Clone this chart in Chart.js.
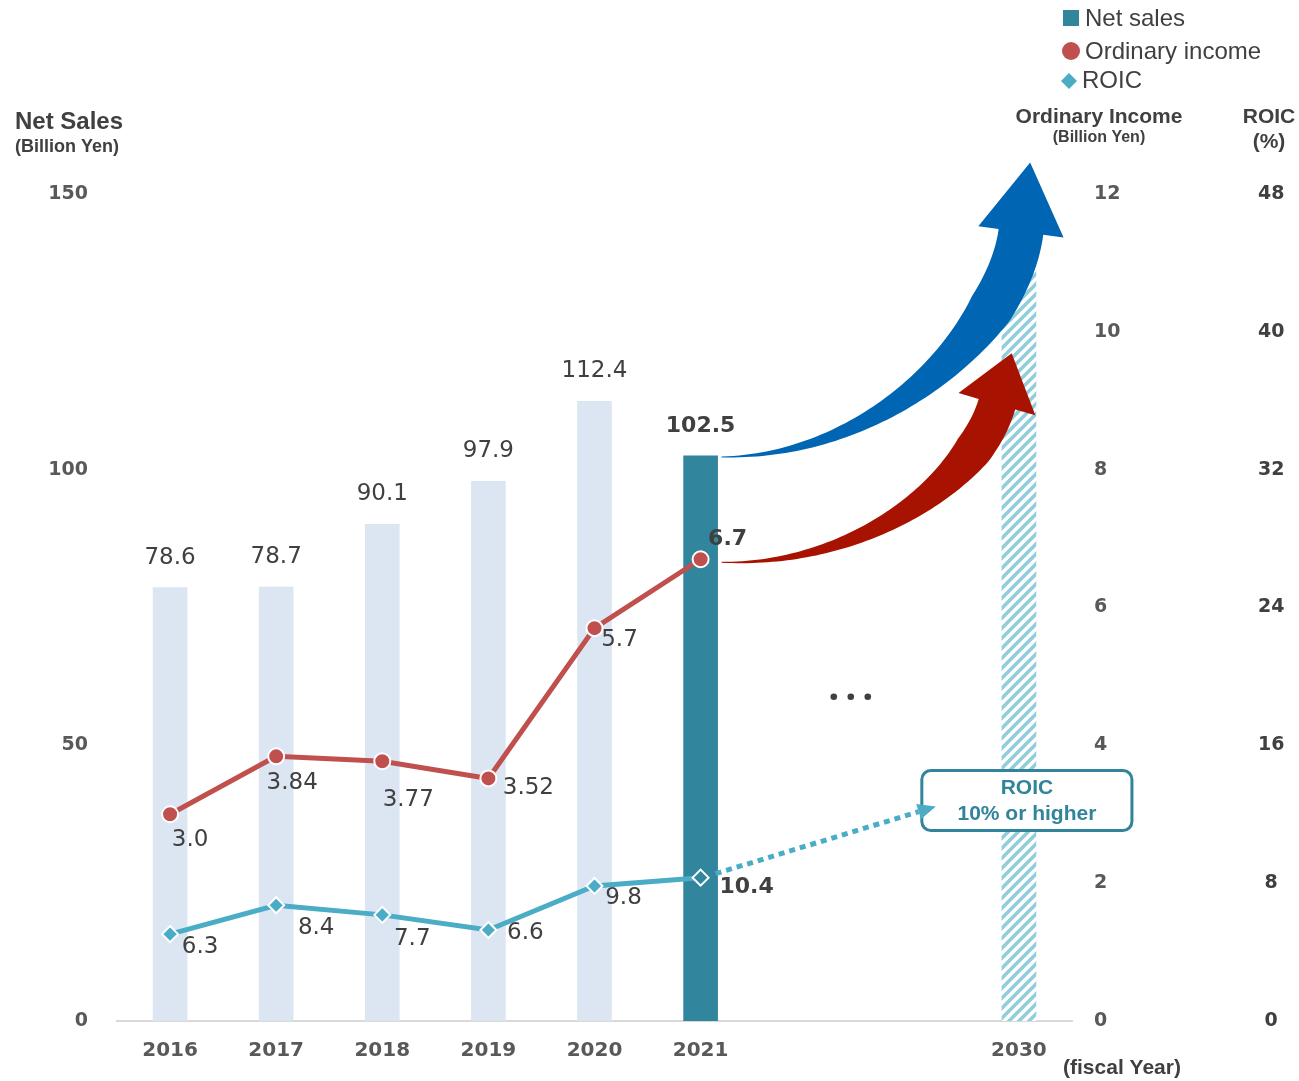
<!DOCTYPE html>
<html><head><meta charset="utf-8">
<script src="https://cdn.jsdelivr.net/npm/chart.js@4"></script>
<style>html,body{margin:0;padding:0;background:#fff;overflow:hidden}canvas{display:block}</style>
</head><body><canvas id="c" width="1299" height="1081" style="width:1299px;height:1081px"></canvas>
<script>
// ---------- data ----------
const years = ['2016','2017','2018','2019','2020','2021','','','2030'];
const netSales = [78.6, 78.7, 90.1, 97.9, 112.4, 102.5, null, null, 137];
const netSalesLabels = ['78.6','78.7','90.1','97.9','112.4','102.5','','',''];
const ordinaryIncome = [3.0, 3.84, 3.77, 3.52, 5.7, 6.7, null, null, null];
const ordinaryIncomeLabels = ['3.0','3.84','3.77','3.52','5.7','6.7','','',''];
const roic = [6.3, 8.4, 7.7, 6.6, 9.8, 10.4, null, null, null];
const roicLabels = ['6.3','8.4','7.7','6.6','9.8','10.4','','',''];
const salesTicks = [0, 50, 100, 150];
const incomeTicks = [0, 2, 4, 6, 8, 10, 12];
const roicTicks = [0, 8, 16, 24, 32, 40, 48];
const roicTargetText = ['ROIC', '10% or higher'];
const seriesNames = ['Net sales', 'Ordinary income', 'ROIC'];

// ---------- styles ----------
const DV = '"DejaVu Sans", Verdana, sans-serif';
const AR = '"Liberation Sans", Arial, sans-serif';
const C_BAR = '#dce6f2', C_BAR21 = '#31859c', C_OI = '#c0504d', C_ROIC = '#4bacc6';
const C_TEXT = '#404040', C_TICK = '#595959';
const incomeLabelOffsets = [[20,26],[16,27],[26,39],[40,10],[25,12],[27,-20]];
const roicLabelOffsets = [[30,13],[40,23],[30,24],[37,3],[29,12],[46,10]];

function makeHatch(){
  const s = 10, c = document.createElement('canvas'); c.width = s; c.height = s;
  const g = c.getContext('2d');
  g.fillStyle = '#fff'; g.fillRect(0,0,s,s);
  g.strokeStyle = '#92cddc'; g.lineWidth = 3.6;
  g.beginPath();
  g.moveTo(0,s); g.lineTo(s,0);
  g.moveTo(-3,3); g.lineTo(3,-3);
  g.moveTo(s-3,s+3); g.lineTo(s+3,s-3);
  g.stroke();
  return document.createElement('canvas').getContext('2d').createPattern(c,'repeat');
}
const hatch = makeHatch();
const barColors = netSales.map((v,i)=> i===8 ? hatch : (i===5 ? C_BAR21 : C_BAR));

// ---------- drawing helpers ----------
function bez(p0,p1,p2,p3,t){const u=1-t;return{x:u*u*u*p0.x+3*u*u*t*p1.x+3*u*t*t*p2.x+t*t*t*p3.x,y:u*u*u*p0.y+3*u*u*t*p1.y+3*u*t*t*p2.y+t*t*t*p3.y};}
function bezD(p0,p1,p2,p3,t){const u=1-t;return{x:3*u*u*(p1.x-p0.x)+6*u*t*(p2.x-p1.x)+3*t*t*(p3.x-p2.x),y:3*u*u*(p1.y-p0.y)+6*u*t*(p2.y-p1.y)+3*t*t*(p3.y-p2.y)};}
function curvedArrow(ctx,p0,p1,p2,p3,wEnd,headW,headL,grow,color){
  const N=80,L=[],R=[];
  for(let i=0;i<=N;i++){
    const t=i/N,p=bez(p0,p1,p2,p3,t),d=bezD(p0,p1,p2,p3,t),len=Math.hypot(d.x,d.y)||1;
    const nx=-d.y/len,ny=d.x/len;
    const w=1+(wEnd-1)*Math.pow(Math.min(1,t/grow),1.3);
    L.push({x:p.x+nx*w/2,y:p.y+ny*w/2});R.push({x:p.x-nx*w/2,y:p.y-ny*w/2});
  }
  const d=bezD(p0,p1,p2,p3,1),len=Math.hypot(d.x,d.y);
  const dx=d.x/len,dy=d.y/len,nx=-dy,ny=dx;
  ctx.save();ctx.fillStyle=color;ctx.beginPath();
  ctx.moveTo(L[0].x,L[0].y);
  for(const q of L)ctx.lineTo(q.x,q.y);
  ctx.lineTo(p3.x+nx*headW/2,p3.y+ny*headW/2);
  ctx.lineTo(p3.x+dx*headL,p3.y+dy*headL);
  ctx.lineTo(p3.x-nx*headW/2,p3.y-ny*headW/2);
  for(let i=R.length-1;i>=0;i--)ctx.lineTo(R[i].x,R[i].y);
  ctx.closePath();ctx.fill();ctx.restore();
}
function text(ctx,s,x,y,font,color,align){
  ctx.font=font;ctx.fillStyle=color;ctx.textAlign=align||'center';ctx.textBaseline='middle';ctx.fillText(s,x,y);
}

const decor = {
  id:'decor',
  afterDatasetsDraw(chart){
    const ctx=chart.ctx,x=chart.scales.x,ys=chart.scales.y,yi=chart.scales.yOI,yr=chart.scales.yRoicData;
    const bars=chart.getDatasetMeta(0).data, oiPts=chart.getDatasetMeta(1).data, roPts=chart.getDatasetMeta(2).data;
    const b21=bars[5], x8=x.getPixelForValue(8), x7=x.getPixelForValue(7), x6=x.getPixelForValue(6);
    // blue arrow (net sales growth)
    const bp0={x:b21.x+b21.width/2+4,y:b21.y+1};
    const bp3={x:x8+2,y:yi.getPixelForValue(11.45)};
    curvedArrow(ctx,bp0,{x:bp0.x+158,y:bp0.y},{x:bp3.x-13,y:bp3.y+98},bp3,45,86,70,0.75,'#0066b3');
    // red arrow (ordinary income growth)
    const rp0={x:b21.x+b21.width/2+4,y:oiPts[5].y+3};
    const rp3={x:x8-22,y:yi.getPixelForValue(8.95)};
    curvedArrow(ctx,rp0,{x:rp0.x+138,y:rp0.y+4},{x:rp3.x-22,y:rp3.y+76},rp3,38,80,53,0.8,'#a81200');
    // ROIC target box
    const bl=x7+9, br=x8+113, cy=yr.getPixelForValue(16), bh=60;
    ctx.save();ctx.fillStyle='#fff';ctx.strokeStyle='#31849b';ctx.lineWidth=3;
    ctx.beginPath();ctx.roundRect(bl,cy-bh/2,br-bl,bh,9);ctx.fill();ctx.stroke();ctx.restore();
    text(ctx,roicTargetText[0],(bl+br)/2,cy-12,'bold 21px '+AR,'#31849b');
    text(ctx,roicTargetText[1],(bl+br)/2,cy+14,'bold 21px '+AR,'#31849b');
    // dotted arrow
    const rp=roPts[5], s={x:rp.x+15,y:rp.y-4}, tip={x:bl+14,y:cy+6};
    const vx=tip.x-s.x, vy=tip.y-s.y, vl=Math.hypot(vx,vy), ux=vx/vl, uy=vy/vl;
    const hb={x:tip.x-ux*18,y:tip.y-uy*18};
    ctx.save();ctx.strokeStyle=C_ROIC;ctx.lineWidth=5;ctx.setLineDash([6,5]);
    ctx.beginPath();ctx.moveTo(s.x,s.y);ctx.lineTo(hb.x,hb.y);ctx.stroke();ctx.setLineDash([]);
    ctx.fillStyle=C_ROIC;ctx.beginPath();ctx.moveTo(tip.x,tip.y);
    ctx.lineTo(hb.x-uy*8,hb.y+ux*8);ctx.lineTo(hb.x+uy*8,hb.y-ux*8);ctx.closePath();ctx.fill();ctx.restore();
    // ellipsis
    ctx.save();ctx.fillStyle=C_TEXT;
    const ex=(x6+x7)/2-9, ey=ys.getPixelForValue(58.8);
    for(const o of [-17,0,17]){ctx.beginPath();ctx.arc(ex+o,ey,3.3,0,Math.PI*2);ctx.fill();}
    ctx.restore();
    // data labels
    bars.forEach((b,i)=>{ if(!netSalesLabels[i])return;
      text(ctx,netSalesLabels[i],b.x,b.y-30,(i===5?'bold 22px ':'23px ')+DV,C_TEXT);});
    oiPts.forEach((p,i)=>{ if(!ordinaryIncomeLabels[i])return; const o=incomeLabelOffsets[i];
      text(ctx,ordinaryIncomeLabels[i],p.x+o[0],p.y+o[1],(i===5?'bold 22px ':'23px ')+DV,C_TEXT);});
    roPts.forEach((p,i)=>{ if(!roicLabels[i])return; const o=roicLabelOffsets[i];
      text(ctx,roicLabels[i],p.x+o[0],p.y+o[1],(i===5?'bold 22px ':'23px ')+DV,C_TEXT);});
  },
  afterDraw(chart){
    const ctx=chart.ctx;
    text(ctx,'Net Sales',15,122,'bold 24px '+AR,C_TEXT,'left');
    text(ctx,'(Billion Yen)',15,147,'bold 18px '+AR,C_TEXT,'left');
    text(ctx,'Ordinary Income',1099,117,'bold 21px '+AR,C_TEXT);
    text(ctx,'(Billion Yen)',1099,138,'bold 16px '+AR,C_TEXT);
    text(ctx,'ROIC',1269,117,'bold 21px '+AR,C_TEXT);
    text(ctx,'(%)',1269,142,'bold 21px '+AR,C_TEXT);
    text(ctx,'(fiscal Year)',1122,1068,'bold 21px '+AR,C_TEXT);
    ctx.save();
    ctx.fillStyle=C_BAR21;ctx.fillRect(1063,10,16,16);
    ctx.fillStyle=C_OI;ctx.beginPath();ctx.arc(1071,51,9,0,Math.PI*2);ctx.fill();
    ctx.fillStyle=C_ROIC;ctx.beginPath();ctx.moveTo(1069,73);ctx.lineTo(1077,81);ctx.lineTo(1069,89);ctx.lineTo(1061,81);ctx.closePath();ctx.fill();
    ctx.restore();
    text(ctx,seriesNames[0],1085,19,'24px '+AR,C_TEXT,'left');
    text(ctx,seriesNames[1],1085,52,'24px '+AR,C_TEXT,'left');
    text(ctx,seriesNames[2],1082,81,'24px '+AR,C_TEXT,'left');
  }
};

const tickFont = {family:DV, weight:'bold', size:19};
new Chart(document.getElementById('c'), {
  data:{
    labels: years,
    datasets:[
      {type:'bar',label:seriesNames[0],data:netSales,backgroundColor:barColors,barThickness:34,yAxisID:'y',order:3},
      {type:'line',label:seriesNames[1],data:ordinaryIncome,yAxisID:'yOI',borderColor:C_OI,borderWidth:5,tension:0,
       pointStyle:'circle',pointRadius:8,pointBackgroundColor:C_OI,pointBorderColor:'#fff',pointBorderWidth:2,order:1},
      {type:'line',label:seriesNames[2],data:roic,yAxisID:'yRoicData',borderColor:C_ROIC,borderWidth:5,tension:0,
       pointStyle:'rectRot',pointRadius:8,pointBackgroundColor:roic.map((v,i)=>i===5?C_BAR21:C_ROIC),pointBorderColor:'#fff',pointBorderWidth:2,order:2}
    ]
  },
  options:{
    responsive:false, animation:false, events:[], devicePixelRatio:1,
    layout:{padding:{top:194,left:0,right:0,bottom:0}},
    plugins:{legend:{display:false},tooltip:{enabled:false}},
    scales:{
      x:{type:'category',offset:true,grid:{display:false,drawTicks:false},
         border:{display:true,color:'#d9d9d9',width:2},
         ticks:{font:{family:DV,weight:'bold',size:20},color:C_TICK,padding:18,maxRotation:0,autoSkip:false},
         afterFit(s){s.height=60;}},
      y:{position:'left',min:salesTicks[0],max:salesTicks[salesTicks.length-1],
         grid:{display:false,drawTicks:false},border:{display:false},
         ticks:{stepSize:salesTicks[1]-salesTicks[0],font:tickFont,color:C_TICK,padding:29},
         afterFit(s){s.width=117;}},
      yOI:{position:'right',weight:0,min:incomeTicks[0],max:incomeTicks[incomeTicks.length-1],
         grid:{display:false,drawTicks:false},border:{display:false},
         ticks:{stepSize:incomeTicks[1]-incomeTicks[0],font:tickFont,color:C_TICK,padding:22,crossAlign:'near'},
         afterFit(s){s.width=178;}},
      yRoic:{position:'right',weight:1,min:roicTicks[0],max:roicTicks[roicTicks.length-1],
         grid:{display:false,drawTicks:false},border:{display:false},
         ticks:{stepSize:roicTicks[1]-roicTicks[0],font:tickFont,color:C_TEXT,padding:8,crossAlign:'center'},
         afterFit(s){s.width=49;}},
      yRoicData:{display:false,min:0,max:60}
    }
  },
  plugins:[decor]
});
</script>
</body></html>
